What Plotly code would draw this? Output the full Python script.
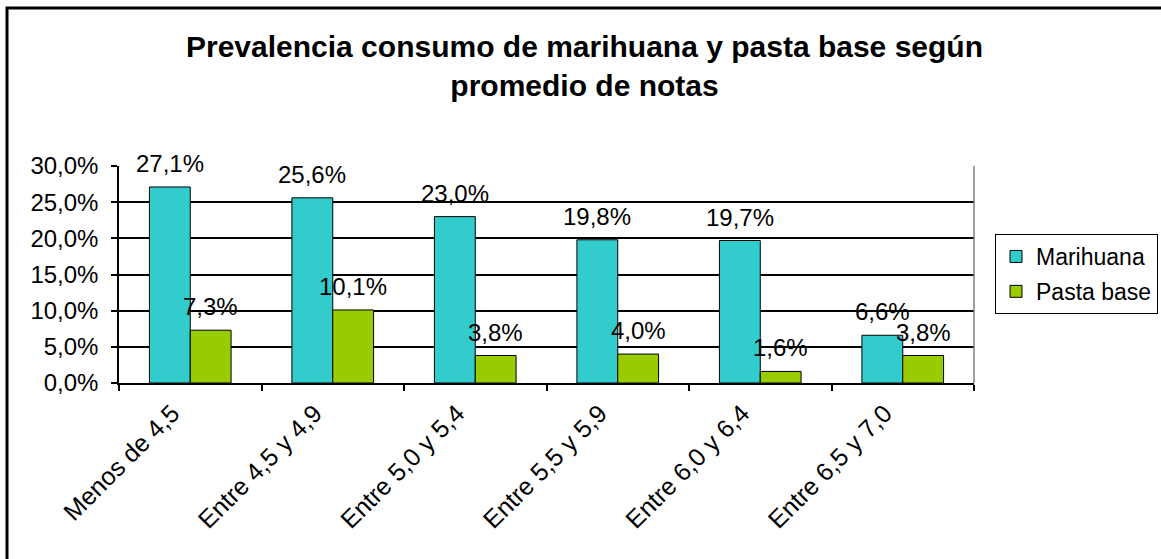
import plotly.graph_objects as go

# datos (porcentajes)
categorias = ["Menos de 4,5", "Entre 4,5 y 4,9", "Entre 5,0 y 5,4",
              "Entre 5,5 y 5,9", "Entre 6,0 y 6,4", "Entre 6,5 y 7,0"]
marihuana = [27.1, 25.6, 23.0, 19.8, 19.7, 6.6]
pasta_base = [7.3, 10.1, 3.8, 4.0, 1.6, 3.8]
y_ticks = [0, 5, 10, 15, 20, 25, 30]

FONT = "Liberation Sans, Arial, sans-serif"
W, H = 1161, 559
L, R, T, B = 119, 187, 166, 176
pw, ph = W - L - R, H - T - B

fmt = lambda v: f"{v:.1f}".replace(".", ",") + "%"

fig = go.Figure()
fig.add_trace(go.Bar(x=categorias, y=marihuana, name="Marihuana",
                     marker=dict(color="#33CCCC", line=dict(color="black", width=1)),
                     legendgroup="a"))
fig.add_trace(go.Bar(x=categorias, y=pasta_base, name="Pasta base",
                     marker=dict(color="#99CC00", line=dict(color="black", width=1)),
                     legendgroup="b"))

### etiquetas de datos encima de cada barra
bar_px = pw / len(categorias) * (1 - 0.427) / 2
for serie, shift in [(marihuana, -bar_px / 2), (pasta_base, bar_px / 2)]:
    for c, v in zip(categorias, serie):
        fig.add_annotation(x=c, y=v, xref="x", yref="y", text=fmt(v),
                           showarrow=False, yanchor="bottom", xshift=shift, yshift=8,
                           font=dict(family=FONT, size=24, color="black"))

### borde exterior del grafico (solo izquierda y arriba se ven)
fig.add_shape(type="rect", xref="paper", yref="paper",
              x0=(7 - L) / pw, x1=(W + 20 - L) / pw,
              y0=-(B + 20) / ph, y1=(T - 8) / ph + 1,
              line=dict(color="black", width=3))
### borde derecho gris del area de trazado
fig.add_shape(type="line", xref="paper", yref="paper", x0=1, x1=1, y0=0, y1=1,
              line=dict(color="#808080", width=1.5))

fig.update_layout(
    width=W, height=H,
    margin=dict(l=L, r=R, t=T, b=B, autoexpand=False),
    paper_bgcolor="white", plot_bgcolor="white",
    separators=",.",
    barmode="group", bargap=0.427, bargroupgap=0,
    font=dict(family=FONT, size=24, color="black"),
    title=dict(text="<b>Prevalencia consumo de marihuana y pasta base según<br>promedio de notas</b>",
               x=584.5 / W, xanchor="center", xref="container",
               y=1 - 57 / H, yanchor="top", yref="container",
               font=dict(family=FONT, size=30, color="black")),
    legend=dict(x=995 / W, xanchor="left", xref="container",
                y=1 - 234 / H, yanchor="top", yref="container",
                bordercolor="black", borderwidth=1, bgcolor="white",
                font=dict(family=FONT, size=23), tracegroupgap=2),
    showlegend=True,
)
fig.update_xaxes(type="category", showline=True, linecolor="black", linewidth=1.5,
                 ticks="outside", tickson="boundaries", ticklen=6, tickcolor="black",
                 tickwidth=1.5, tickangle=-45, showgrid=False, automargin=False,
                 ticklabelshift=-18, ticklabelstandoff=4,
                 tickfont=dict(family=FONT, size=25))
fig.update_yaxes(range=[0, 30], tickvals=y_ticks, ticktext=[fmt(t) for t in y_ticks],
                 showline=True, linecolor="black", linewidth=1.5,
                 ticks="outside", ticklen=6, tickcolor="black", tickwidth=1.5,
                 showgrid=True, gridcolor="black", gridwidth=1.5, zeroline=False,
                 automargin=False, ticklabelstandoff=8,
                 tickfont=dict(family=FONT, size=24))

### quitar el margen por defecto del body para que el grafico empiece en 0,0
fig.write_html("out.html", config={"displayModeBar": False},
               post_script="document.body.style.margin='0';")
